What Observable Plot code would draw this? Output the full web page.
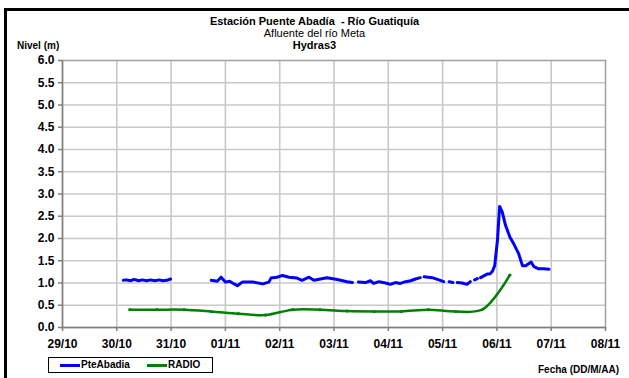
<!DOCTYPE html>
<html>
<head>
<meta charset="utf-8">
<script src="https://cdn.jsdelivr.net/npm/d3@7"></script>
<script src="https://cdn.jsdelivr.net/npm/@observablehq/plot@0.6"></script>
<style>
  html, body { margin: 0; padding: 0; background: #fff; overflow: hidden; }
  #wrap { position: relative; width: 629px; height: 378px; overflow: hidden; font-family: "Liberation Sans", Arial, sans-serif; }
  #wrap svg { position: absolute; left: 0; top: 0; }
  .frame { position: absolute; left: 4px; top: 8px; width: 700px; height: 500px; border: 3px solid #000; box-sizing: border-box; }
  .t { position: absolute; left: 0; width: 629px; text-align: center; color: #000; white-space: nowrap; }
  .lab { position: absolute; color: #000; font-weight: bold; font-size: 10px; white-space: nowrap; }
  .legend { position: absolute; left: 48px; top: 357px; width: 165px; height: 16px; border: 1px solid #000; box-sizing: border-box; background: #fff; font-size: 10px; font-weight: bold; }
  .legend span { position: absolute; top: 1px; }
  .legend i { position: absolute; top: 6px; height: 3px; width: 20px; }
</style>
</head>
<body>
<div id="wrap">
  <div class="frame"></div>
  <div id="chart"></div>
  <div class="t" style="top:15px;font-size:11px;font-weight:bold;">Estación Puente Abadía&nbsp; - Río Guatiquía</div>
  <div class="t" style="top:27px;font-size:11px;">Afluente del río Meta</div>
  <div class="t" style="top:39px;font-size:11px;font-weight:bold;">Hydras3</div>
  <div class="lab" style="left:17px;top:40px;">Nivel (m)</div>
  <div class="lab" style="left:538px;top:364px;">Fecha (DD/M/AA)</div>
  <div class="legend">
    <i style="left:11px;background:#0000ff;"></i><span style="left:32px;">PteAbadia</span>
    <i style="left:98px;background:#008000;"></i><span style="left:119px;">RADIO</span>
  </div>
</div>
<script>
// x tick labels (days from 29/10)
const xTickLabels = ["29/10","30/10","31/10","01/11","02/11","03/11","04/11","05/11","06/11","07/11","08/11"];
const yTicks = [0,0.5,1,1.5,2,2.5,3,3.5,4,4.5,5,5.5,6];

// PteAbadia series (day offset from 29/10, level m); null = gap
const pteDays = [1.12,1.18,1.25,1.32,1.40,1.47,1.55,1.62,1.70,1.78,1.85,1.92,1.99,2.30,
  2.74,2.85,2.92,3.00,3.08,3.13,3.22,3.31,3.40,3.52,3.69,3.80,3.84,3.95,4.05,4.17,4.32,4.41,4.54,4.63,4.87,5.06,5.24,5.34,5.40,
  5.45,5.58,5.67,5.73,5.83,5.95,6.04,6.13,6.22,6.32,6.41,6.50,6.59,6.62,
  6.66,6.81,6.93,7.02,7.07,7.12,7.19,7.23,7.27,7.36,7.45,7.51,7.55,7.59,7.64,7.67,
  7.70,7.76,7.82,7.88,7.92,7.96,8.01,8.05,8.10,8.16,8.24,8.31,8.40,8.47,8.53,8.59,8.63,8.68,8.77,8.86,8.96];
const pteLevels = [1.06,1.07,1.05,1.08,1.05,1.07,1.05,1.07,1.05,1.07,1.05,1.06,1.09,null,
  1.06,1.04,1.13,1.02,1.04,1.00,0.94,1.02,1.02,1.02,0.98,1.02,1.11,1.13,1.17,1.13,1.11,1.06,1.13,1.06,1.12,1.08,1.03,1.01,null,
  1.02,1.01,1.05,0.99,1.03,1.00,0.97,1.01,0.99,1.03,1.05,1.09,1.12,null,
  1.14,1.12,1.07,1.03,null,1.03,1.01,null,1.01,1.00,0.97,1.03,null,1.07,1.10,null,
  1.12,1.16,1.20,1.21,1.27,1.39,1.96,2.72,2.59,2.29,2.03,1.88,1.66,1.39,1.39,1.44,1.47,1.37,1.32,1.32,1.31];

// RADIO series
const radioDays = [1.24,1.74,2.24,2.74,3.24,3.74,4.24,4.74,5.24,5.74,6.24,6.74,7.24,7.74,8.24];
const radioLevels = [0.40,0.40,0.40,0.36,0.31,0.28,0.40,0.40,0.37,0.36,0.36,0.40,0.36,0.41,1.18];

const pte = pteDays.map((d, i) => ({x: d, y: pteLevels[i]}));
const radio = radioDays.map((d, i) => ({x: d, y: radioLevels[i]}));
const xTicks = d3.range(0, 11);

const chart = Plot.plot({
  width: 629,
  height: 378,
  marginLeft: 62,
  marginRight: 24,
  marginTop: 60,
  marginBottom: 51,
  style: {fontFamily: "'Liberation Sans', Arial, sans-serif", fontSize: "12px", fontWeight: "bold", color: "#000", background: "transparent"},
  x: {domain: [0, 10]},
  y: {domain: [0, 6]},
  marks: [
    Plot.gridX(xTicks.slice(1, -1), {stroke: "#c8c8c8", strokeOpacity: 1, strokeWidth: 1.6}),
    Plot.gridY(yTicks.slice(1, -1), {stroke: "#c8c8c8", strokeOpacity: 1, strokeWidth: 1.6}),
    Plot.frame({stroke: "#a0a0a0", strokeWidth: 1.5}),
    Plot.axisX({ticks: xTicks, tickFormat: i => xTickLabels[i], tickSize: 4, tickPadding: 8, label: null, stroke: "#808080", strokeWidth: 1.5}),
    Plot.axisY({ticks: yTicks, tickFormat: d3.format(".1f"), tickSize: 4, tickPadding: 4, label: null, stroke: "#808080", strokeWidth: 1.5}),
    Plot.ruleY([0], {stroke: "#808080", strokeWidth: 1.5}),
    Plot.ruleX([0], {stroke: "#808080", strokeWidth: 1.5}),
    Plot.line(radio, {x: "x", y: "y", stroke: "#008000", strokeWidth: 2.5, curve: "catmull-rom"}),
    Plot.dot(radio, {x: "x", y: "y", r: 1.6, fill: "#008000"}),
    Plot.line(pte, {x: "x", y: "y", stroke: "#0000ff", strokeWidth: 3})
  ]
});
document.getElementById("chart").appendChild(chart);
</script>
</body>
</html>
